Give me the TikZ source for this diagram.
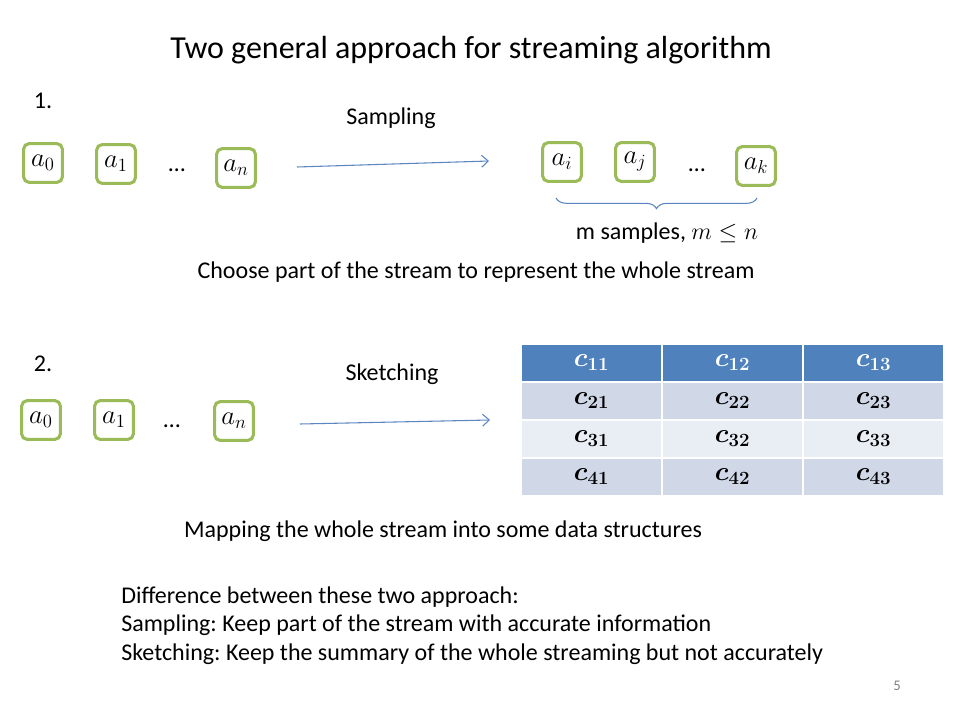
\RequirePackage{fix-cm}
\documentclass[tikz,border=0pt]{standalone}
\usepackage{amsmath,bm}
\usepackage{fontspec}
\setmainfont{Carlito}
\frenchspacing
\usetikzlibrary{decorations.pathreplacing,arrows.meta}
\definecolor{boxgreen}{HTML}{9BBB59}
\definecolor{hdrblue}{HTML}{4F81BD}
\definecolor{rowa}{HTML}{D0D8E8}
\definecolor{rowb}{HTML}{E9EDF4}
\definecolor{arrblue}{HTML}{5B86C0}
\tikzset{
  elem/.style={draw=boxgreen, line width=2.3pt, rounded corners=4pt, minimum width=29pt, minimum height=29pt, inner sep=0pt, font=\fontsize{20}{24}\selectfont},
  body/.style={font=\fontsize{18}{21}\selectfont, inner sep=0pt},
  cell/.style={draw=white, line width=1.2pt, minimum width=105.75pt, minimum height=28.5pt, inner sep=0pt, font=\fontsize{20}{24}\selectfont},
  flow/.style={draw=arrblue, line width=0.8pt, -{Straight Barb[length=5pt,width=9pt]}},
}
\begin{document}
\begin{tikzpicture}[x=0.75pt,y=-0.75pt]
\useasboundingbox[fill=white] (0,0) rectangle (960,720);
\node[font=\fontsize{24}{28}\selectfont, inner sep=0pt] (title) at (471,50) {Two general approach for streaming algorithm};
\node[body] (one) at (43,101) {1.};
\node[body] (two) at (43,364) {2.};
% part 1
\node[elem] (a0) at (43,163) {$a_0$};
\node[elem] (a1) at (116,164) {$a_1$};
\node[body] (d1) at (177,170) {\ldots};
\node[elem] (an) at (236,168) {$a_n$};
\node[body] (samp) at (391,118) {Sampling};
\coordinate (s1) at (297,167);
\coordinate (e1) at (489,161);
\draw[flow] (s1) -- (e1);
\node[elem] (ai) at (562,162) {$a_i$};
\node[elem] (aj) at (635,162) {$a_j$};
\node[body] (d2) at (697,170) {\ldots};
\node[elem] (ak) at (756,166) {$a_k$};
\coordinate (bl) at (556,198);
\coordinate (br) at (757,198);
\draw[arrblue, line width=0.8pt, decorate, decoration={brace, amplitude=8pt, mirror}] (bl) -- (br);
\node[body] (msamp) at (667,233) {m samples, $m\leq n$};
\node[body] (choose) at (476,272) {Choose part of the stream to represent the whole stream};
% part 2
\node[elem] (b0) at (41,420) {$a_0$};
\node[elem] (b1) at (114,420) {$a_1$};
\node[body] (d3) at (172,426) {\ldots};
\node[elem] (bn) at (234,421) {$a_n$};
\node[body] (sketch) at (392,374) {Sketching};
\coordinate (s2) at (300,424);
\coordinate (e2) at (490,420);
\draw[flow] (s2) -- (e2);
% table
\node[cell, fill=hdrblue, text=white] (c11) at (591.5,363) {$\bm{c_{11}}$};
\node[cell, fill=hdrblue, text=white] (c12) at (732.5,363) {$\bm{c_{12}}$};
\node[cell, fill=hdrblue, text=white] (c13) at (873.5,363) {$\bm{c_{13}}$};
\node[cell, fill=rowa] (c21) at (591.5,401) {$\bm{c_{21}}$};
\node[cell, fill=rowa] (c22) at (732.5,401) {$\bm{c_{22}}$};
\node[cell, fill=rowa] (c23) at (873.5,401) {$\bm{c_{23}}$};
\node[cell, fill=rowb] (c31) at (591.5,439) {$\bm{c_{31}}$};
\node[cell, fill=rowb] (c32) at (732.5,439) {$\bm{c_{32}}$};
\node[cell, fill=rowb] (c33) at (873.5,439) {$\bm{c_{33}}$};
\node[cell, fill=rowa] (c41) at (591.5,477) {$\bm{c_{41}}$};
\node[cell, fill=rowa] (c42) at (732.5,477) {$\bm{c_{42}}$};
\node[cell, fill=rowa] (c43) at (873.5,477) {$\bm{c_{43}}$};
\node[body] (map) at (443,531) {Mapping the whole stream into some data structures};
\node[body, anchor=west] (l1) at (121,597) {Difference between these two approach:};
\node[body, anchor=west] (l2) at (121,625) {Sampling: Keep part of the stream with accurate information};
\node[body, anchor=west] (l3) at (121,654) {Sketching: Keep the summary of the whole streaming but not accurately};
\node[font=\fontsize{11}{13}\selectfont, text=gray, inner sep=0pt] (page) at (897,686) {5};
\end{tikzpicture}
\end{document}
